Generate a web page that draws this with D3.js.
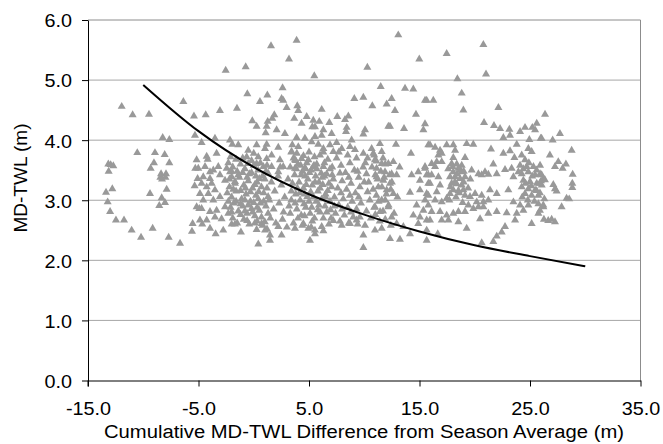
<!DOCTYPE html>
<html><head><meta charset="utf-8">
<script src="https://cdn.jsdelivr.net/npm/d3@7"></script>
<style>body{margin:0;background:#fff}svg{display:block}text{font-family:"Liberation Sans",Arial,sans-serif;fill:#000}</style>
</head><body><svg id="c" width="663" height="444"></svg>
<script>
const xTicks=[-15,-5,5,15,25,35];
const yTicks=[0,1,2,3,4,5,6];
const xTitle="Cumulative MD-TWL Difference from Season Average (m)";
const yTitle="MD-TWL (m)";
const curveX=[-10,-5,0,5,10,15,20,25,30];
const curveY=[4.92,4.15,3.55,3.10,2.76,2.48,2.25,2.07,1.90];

const ptsFarLeft=[[-11.95,4.56],[-10.96,4.42],[-9.48,4.43],[-6.37,4.64],[-5.41,4.40],[-8.24,4.04],[-7.64,4.01],[-10.54,3.79],[-8.94,3.79],[-8.06,3.76],[-9.03,3.62],[-7.64,3.62],[-13.16,3.60],[-12.71,3.57],[-12.95,3.59],[-13.13,3.48],[-9.33,3.53],[-8.39,3.44],[-7.94,3.44],[-8.45,3.38],[-7.99,3.38],[-8.3,3.35],[-5.29,3.53],[-5.35,3.24],[-13.37,3.13],[-12.8,3.19],[-9.39,3.11],[-7.88,3.18],[-8.33,3.04],[-8.03,2.96],[-8.55,2.91],[-13.22,2.97],[-13.0,2.81],[-12.47,2.67],[-11.74,2.67],[-11.05,2.50],[-10.2,2.38],[-9.15,2.53],[-7.7,2.38],[-6.67,2.28],[-5.53,2.61],[-5.59,2.48],[-4.93,2.86]];

const ptsLeftUpper=[[1.56,5.57],[3.88,5.66],[3.19,5.35],[-2.54,5.16],[-0.73,5.22],[5.48,5.07],[2.61,4.87],[-0.58,4.77],[1.23,4.75],[2.52,4.69],[2.67,4.66],[0.56,4.64],[2.98,4.54],[3.94,4.57],[4.03,4.49],[-1.52,4.53],[-3.06,4.49],[-4.35,4.42],[1.86,4.42],[1.68,4.36],[3.67,4.36],[4.79,4.39],[-0.13,4.32],[0.26,4.23],[1.26,4.31],[1.17,4.23],[2.07,4.17],[4.33,4.28],[1.08,4.12],[2.82,4.11],[3.88,4.04],[4.63,4.03],[5.3,4.22],[-5.32,4.08],[-3.51,4.03],[-4.72,3.96],[-2.15,4.0],[-1.94,3.93],[-1.4,3.92],[0.26,3.92],[1.17,3.93],[1.02,3.86],[2.22,3.88],[3.49,3.92],[4.03,3.89],[3.43,3.81],[-4.26,3.73],[-4.17,3.68],[-3.36,3.78],[-5.17,3.67],[-0.5,3.83],[0.0,3.78],[-0.64,3.72],[0.41,3.72],[0.26,3.61],[-0.5,3.61],[1.17,3.69],[1.62,3.75],[0.87,3.56],[1.62,3.56],[2.37,3.67],[2.67,3.56],[2.22,3.47],[3.73,3.67],[4.33,3.69],[4.94,3.67],[3.73,3.53],[4.63,3.53],[5.39,3.56]];

const ptsLeftLower=[[-4.41,3.56],[-3.96,3.47],[-3.66,3.5],[-4.57,3.39],[-3.96,3.36],[-3.21,3.56],[-3.06,3.42],[-5.02,3.53],[-5.08,3.36],[-2.45,3.53],[-2.15,3.47],[-2.0,3.39],[-2.6,3.33],[-1.7,3.31],[-4.72,3.28],[-4.26,3.22],[-3.81,3.28],[-3.51,3.17],[-4.11,3.11],[-4.87,3.11],[-4.57,3.0],[-3.66,3.0],[-3.06,3.06],[-5.17,2.89],[-4.72,2.86],[-3.96,2.81],[-3.36,2.83],[-2.6,2.89],[-4.87,2.67],[-4.26,2.67],[-3.51,2.72],[-2.91,2.69],[-2.3,2.78],[-4.66,2.6],[-3.96,2.53],[-2.76,2.5],[-3.45,2.44],[-1.16,2.47],[-2.0,2.6],[0.41,2.27],[1.47,2.33],[1.47,2.42],[0.26,2.51],[0.71,2.61],[1.02,2.5],[2.22,2.56],[2.52,2.42],[3.73,2.53],[4.49,2.61],[5.09,2.33],[5.54,2.44],[4.94,2.53]];

const ptsCenterDense=[[-2.3,3.62],[-1.9,3.55],[-1.5,3.48],[-1.2,3.60],[-0.8,3.52],[-0.4,3.44],[0.0,3.58],[0.4,3.50],[0.8,3.40],[-2.2,3.35],[-1.7,3.28],[-1.3,3.38],[-0.9,3.25],[-0.5,3.32],[-0.1,3.20],[0.3,3.30],[0.7,3.22],[1.0,3.35],[-2.4,3.12],[-2.0,3.05],[-1.6,3.15],[-1.1,3.02],[-0.7,3.10],[-0.3,2.98],[0.2,3.08],[0.6,2.95],[0.9,3.12],[-2.1,2.88],[-1.8,2.95],[-1.4,2.82],[-1.0,2.90],[-0.6,2.78],[-0.2,2.86],[0.1,2.74],[0.5,2.83],[1.1,2.90],[-1.9,2.70],[-1.5,2.62],[-0.9,2.68],[-0.4,2.60],[0.3,2.65],[0.8,2.58],
[1.3,3.45],[1.6,3.30],[1.9,3.15],[2.2,3.40],[2.5,3.25],[2.8,3.05],[3.1,3.35],[1.4,3.00],[1.8,2.85],[2.3,2.95],[2.7,2.80],[3.2,2.90],[1.5,2.70],[2.0,2.62],[2.6,2.68],[3.0,2.55],[1.2,2.52],[3.4,3.15],[2.4,3.55],
[3.6,3.70],[4.0,3.60],[4.4,3.48],[4.8,3.62],[5.2,3.50],[5.6,3.40],[3.7,3.42],[4.1,3.30],[4.5,3.20],[4.9,3.35],[5.3,3.25],[5.8,3.15],[3.8,3.10],[4.2,3.00],[4.6,3.10],[5.0,2.98],[5.4,3.05],[5.9,2.92],[3.9,2.85],[4.3,2.75],[4.7,2.88],[5.1,2.78],[5.5,2.70],[6.0,2.80],[3.6,2.62],[4.4,2.58],[5.2,2.55],[5.7,3.60],[6.1,3.45],[6.0,3.75],
[6.3,3.80],[6.7,3.68],[7.1,3.55],[7.5,3.70],[7.9,3.58],[8.3,3.46],[8.7,3.62],[9.1,3.50],[9.5,3.38],[9.9,3.55],[6.4,3.40],[6.8,3.28],[7.2,3.35],[7.6,3.20],[8.0,3.32],[8.4,3.18],[8.8,3.28],[9.2,3.12],[9.6,3.22],[10.0,3.30],[6.5,3.10],[6.9,2.98],[7.3,3.05],[7.7,2.92],[8.1,3.02],[8.5,2.88],[8.9,2.98],[9.3,2.85],[9.7,2.95],[6.6,2.80],[7.0,2.70],[7.4,2.78],[7.8,2.65],[8.2,2.75],[8.6,2.62],[9.0,2.72],[9.4,2.60],
[10.3,3.70],[10.7,3.55],[11.1,3.65],[11.5,3.48],[11.9,3.60],[12.3,3.42],[10.4,3.30],[10.8,3.18],[11.2,3.35],[11.6,3.22],[12.0,3.10],[12.5,3.30],[10.5,3.00],[10.9,2.88],[11.3,2.98],[11.7,2.82],[12.2,2.92],[12.7,2.78],[10.6,2.70],[11.4,2.65],[12.4,2.58],[13.0,3.05],[13.2,3.55]];

const ptsCluster1=[[-2.1,3.72],[-1.6,3.68],[-1.0,3.70],[-0.2,3.66],[0.6,3.62],[1.2,3.58],[-2.0,3.48],[-1.4,3.42],[-1.0,3.46],[-0.6,3.38],[-0.2,3.46],[0.2,3.40],[0.5,3.36],[1.1,3.48],[-2.2,3.22],[-1.85,3.18],[-1.2,3.16],[-0.75,3.20],[-0.3,3.14],[0.1,3.26],[0.45,3.14],[1.2,3.20],[-2.3,2.98],[-1.6,2.98],[-1.2,2.94],[-0.8,3.00],[-0.5,2.92],[0.0,2.96],[0.4,3.02],[0.9,2.98],[1.3,3.06],[-2.0,2.80],[-1.2,2.76],[-0.8,2.82],[-0.1,2.80],[0.3,2.88],[0.7,2.72],[1.3,2.78],[-1.7,2.60],[-0.6,2.66],[0.1,2.62],[1.0,2.64]];

const ptsCluster2=[[3.4,3.80],[3.9,3.78],[4.5,3.74],[5.0,3.80],[5.5,3.72],[6.4,3.62],[6.9,3.52],[3.3,3.55],[3.85,3.52],[4.25,3.58],[4.65,3.40],[5.05,3.46],[5.45,3.58],[5.9,3.30],[6.3,3.56],[6.6,3.44],[7.1,3.42],[3.5,3.28],[3.95,3.20],[4.3,3.42],[4.75,3.26],[5.15,3.14],[5.55,3.30],[6.0,3.20],[6.25,3.26],[6.7,3.16],[7.05,3.22],[3.4,3.00],[3.75,2.95],[4.15,3.12],[4.55,2.94],[4.85,3.06],[5.25,2.88],[5.65,2.98],[6.15,3.02],[6.45,2.90],[6.95,2.84],[7.3,2.90],[3.3,2.78],[4.0,2.70],[4.6,2.74],[5.3,2.65],[5.8,2.84],[6.3,2.70],[6.8,2.60],[7.2,2.66],[3.8,3.66],[4.7,3.52],[5.7,3.52],[6.2,3.38],[6.5,3.05]];

const ptsCluster3=[[7.7,3.80],[8.5,3.75],[9.3,3.70],[10.1,3.62],[10.9,3.75],[11.7,3.70],[7.8,3.45],[8.6,3.38],[9.4,3.48],[10.2,3.44],[11.0,3.42],[11.8,3.38],[7.9,3.12],[8.7,3.08],[9.5,3.05],[10.3,3.14],[11.1,3.08],[11.9,3.00],[12.4,3.18],[8.0,2.85],[8.8,2.80],[9.6,2.72],[10.2,2.82],[11.0,2.76],[11.9,2.68]];

const ptsMidUpper=[[13.08,5.75],[14.98,5.35],[10.28,5.21],[11.49,4.89],[13.69,4.86],[14.44,4.85],[9.1,4.69],[9.92,4.71],[12.48,4.69],[12.03,4.6],[10.73,4.57],[15.5,4.66],[6.15,4.51],[12.78,4.49],[14.68,4.43],[7.56,4.39],[8.56,4.4],[8.26,4.34],[5.39,4.33],[5.93,4.31],[6.84,4.29],[15.5,4.27],[15.35,4.17],[12.18,4.23],[12.33,4.23],[13.6,4.19],[8.41,4.21],[8.35,4.14],[10.07,4.17],[9.92,4.1],[5.54,4.22],[6.3,4.17],[6.15,4.08],[5.54,4.06],[7.05,4.11],[5.24,3.97],[5.84,3.93],[6.3,3.86],[6.9,3.92],[7.5,3.96],[7.96,3.86],[7.2,3.81],[8.86,4.0],[8.71,3.89],[9.16,3.84],[9.92,3.78],[10.67,3.86],[11.42,3.94],[10.82,3.78],[11.58,3.81],[12.87,3.93],[14.23,3.78],[15.8,3.92]];

const ptsMidLower=[[14.29,3.42],[14.89,3.47],[15.5,3.56],[15.8,3.42],[15.04,3.33],[15.8,3.28],[14.14,3.13],[15.04,3.17],[15.65,3.11],[15.5,3.0],[14.74,2.92],[15.35,2.83],[15.8,2.92],[15.04,2.72],[14.44,2.75],[15.65,2.67],[5.54,2.5],[6.3,2.49],[6.15,2.56],[7.96,2.58],[8.71,2.61],[9.31,2.67],[10.07,2.58],[9.92,2.42],[10.97,2.5],[11.58,2.53],[12.33,2.36],[13.23,2.35],[12.93,2.61],[13.54,2.56],[14.14,2.44],[14.89,2.61],[15.65,2.5],[9.92,2.21],[10.97,3.67],[11.58,3.61],[12.18,3.61],[12.63,3.64],[11.12,3.53],[11.88,3.47],[12.48,3.44],[11.12,3.39],[11.73,3.33],[12.33,3.28],[11.27,3.22],[12.03,3.17],[12.63,3.11],[12.93,3.42],[11.58,3.0],[12.18,2.89],[11.43,2.81],[12.48,2.72],[10.97,2.89]];

const ptsRight=[[20.78,5.59],[17.46,5.44],[21.02,5.1],[18.43,5.02],[18.82,4.78],[15.65,4.66],[16.25,4.66],[18.97,4.5],[22.14,4.54],[26.36,4.43],[20.84,4.29],[21.74,4.24],[22.29,4.19],[23.13,4.18],[23.19,4.08],[22.59,4.04],[24.1,4.14],[24.55,4.21],[25.21,4.21],[25.61,4.28],[25.46,4.17],[24.94,4.01],[25.97,4.03],[15.95,3.92],[16.41,3.88],[16.86,3.83],[17.01,3.78],[16.71,3.75],[17.46,3.92],[18.06,3.92],[18.22,3.83],[19.27,3.94],[19.87,3.93],[19.12,3.71],[18.06,3.71],[21.47,3.85],[22.59,3.78],[23.19,3.82],[23.8,3.93],[23.59,3.71],[24.25,3.75],[24.85,3.86],[25.15,3.81],[21.68,3.6],
[15.5,3.53],[16.1,3.61],[16.56,3.64],[17.01,3.64],[16.41,3.56],[15.65,3.42],[16.1,3.42],[16.71,3.39],[16.86,3.25],[15.95,3.28],[16.56,3.14],[15.8,3.08],[16.41,3.0],[17.01,2.97],[17.46,3.03],
[17.91,3.61],[18.37,3.6],[18.82,3.58],[18.52,3.53],[18.06,3.47],[18.82,3.47],[17.76,3.39],[18.22,3.39],[18.67,3.36],[19.12,3.39],[17.91,3.28],[18.37,3.27],[18.82,3.25],[18.06,3.17],[18.52,3.16],[18.97,3.17],[17.76,3.11],[19.12,3.08],
[19.72,3.5],[20.33,3.44],[20.93,3.47],[21.23,3.43],[20.63,3.42],[21.99,3.44],[22.74,3.51],[23.34,3.53],[23.95,3.47],[23.5,3.39],[23.04,3.17],[21.99,3.11],[21.38,3.17],[20.63,3.08],[20.03,3.11],[19.57,3.06],[20.18,2.97],[20.78,2.97],[21.23,3.0],[21.23,2.78],[20.78,2.89],[20.33,2.89],[19.87,2.86],[19.42,2.92],[19.12,2.81],[18.52,2.81],[18.06,2.78],[17.46,2.75],[16.86,2.81],[16.1,2.81],[15.95,2.67],[17.01,2.67],[17.61,2.67],[18.52,2.64],[19.27,2.53],[20.48,2.69],[21.99,2.81],[22.89,2.79],[23.8,2.78],[24.4,2.83],[24.1,2.92],[23.5,2.97],[24.85,2.92],[25.76,2.94],[26.21,2.89],[25.76,2.78],[23.65,2.67],[22.74,2.56],[22.44,2.47],[21.99,2.4],[21.68,2.31],[20.63,2.29],[25.15,2.61],[16.65,2.44],[15.65,2.33],
[24.55,3.67],[24.1,3.58],[24.7,3.56],[25.31,3.56],[25.91,3.58],[24.25,3.44],[24.85,3.47],[25.46,3.42],[25.91,3.44],[26.21,3.36],[24.4,3.33],[25.0,3.31],[25.61,3.28],[26.06,3.25],[24.25,3.22],[24.85,3.19],[25.46,3.17],[24.55,3.11],[25.15,3.08],[25.76,3.08]];

const ptsRightClusters=[[17.6,3.52],[18.0,3.56],[18.4,3.44],[18.7,3.50],[19.0,3.30],[17.8,3.22],[18.2,3.30],[18.6,3.12],[19.0,3.48],[18.3,3.05],[17.7,3.00],[18.9,2.96],[19.4,3.20],[19.6,3.35],[24.4,3.52],[24.9,3.62],[25.2,3.40],[25.6,3.50],[26.0,3.32],[24.6,3.28],[25.1,3.24],[25.6,3.16],[24.3,3.05],[25.9,3.12],[26.3,3.02],[24.8,3.00],[25.4,2.98]];

const ptsFarRight=[[27.71,4.11],[26.05,4.03],[27.05,4.0],[28.77,3.83],[26.8,3.75],[27.56,3.64],[27.26,3.56],[27.95,3.53],[28.25,3.6],[28.86,3.43],[26.05,3.42],[26.35,3.34],[25.9,3.28],[27.11,3.26],[27.26,3.19],[27.41,3.15],[28.83,3.28],[28.83,3.21],[28.31,3.03],[28.55,3.02],[27.86,2.89],[26.2,2.92],[25.9,2.83],[26.26,2.68],[26.65,2.66],[26.96,2.68],[27.26,2.64]];

const allPts=[].concat(ptsFarLeft,ptsLeftUpper,ptsLeftLower,ptsCenterDense,ptsCluster1,ptsCluster2,ptsCluster3,ptsMidUpper,ptsMidLower,ptsRight,ptsRightClusters,ptsFarRight);

const L=88,R=640.5,T=20,B=380.5;
const svg=d3.select("#c");
const x=d3.scaleLinear().domain([-15,35]).range([L,R]);
const y=d3.scaleLinear().domain([0,6]).range([B,T]);

svg.append("g").selectAll("line").data(yTicks.filter(d=>d>0&&d<6)).join("line")
  .attr("x1",L).attr("x2",R).attr("y1",d=>y(d)).attr("y2",d=>y(d))
  .attr("stroke","#a6a6a6").attr("stroke-width",1);
svg.append("line").attr("x1",L).attr("x2",R).attr("y1",y(6)).attr("y2",y(6)).attr("stroke","#8c8c8c");
svg.append("line").attr("x1",R).attr("x2",R).attr("y1",y(6)).attr("y2",B).attr("stroke","#8c8c8c");

const sym=d3.symbol().type(d3.symbolTriangle).size(28);
svg.append("g").selectAll("path").data(allPts).join("path")
  .attr("d",sym).attr("transform",d=>`translate(${x(d[0])},${y(d[1])})`)
  .attr("fill","#999999");

const cdata=curveX.map((v,i)=>[v,curveY[i]]);
svg.append("path").datum(cdata)
  .attr("d",d3.line().x(d=>x(d[0])).y(d=>y(d[1])).curve(d3.curveMonotoneX))
  .attr("fill","none").attr("stroke","#000").attr("stroke-width",2);

const xa=svg.append("g").attr("transform",`translate(0,${B})`)
  .call(d3.axisBottom(x).tickValues(xTicks).tickFormat(d=>d.toFixed(1)).tickSizeInner(6).tickSizeOuter(0).tickPadding(16));
xa.select(".domain").attr("stroke","#000");
xa.selectAll(".tick line").attr("stroke","#000");
xa.selectAll("text").attr("font-size",18).attr("font-family","Liberation Sans").attr("transform","scale(1.1,1)");

const ya=svg.append("g").attr("transform",`translate(${L},0)`)
  .call(d3.axisLeft(y).tickValues(yTicks).tickFormat(d=>d.toFixed(1)).tickSizeInner(6).tickSizeOuter(0).tickPadding(10));
ya.select(".domain").attr("stroke","#000");
ya.selectAll(".tick line").attr("stroke","#000");
ya.selectAll("text").attr("font-size",18).attr("font-family","Liberation Sans").attr("x",-16/1.1).attr("dy","0.38em").attr("transform","scale(1.1,1)");
svg.append("line").attr("x1",L).attr("x2",L).attr("y1",B).attr("y2",B+6).attr("stroke","#000");

svg.append("text").attr("x",364).attr("y",438).attr("text-anchor","middle")
  .attr("font-size",18).attr("textLength",520).attr("lengthAdjust","spacingAndGlyphs").text(xTitle);
svg.append("text").attr("transform","translate(27,178) rotate(-90)").attr("text-anchor","middle")
  .attr("font-size",19).text(yTitle);
</script></body></html>
